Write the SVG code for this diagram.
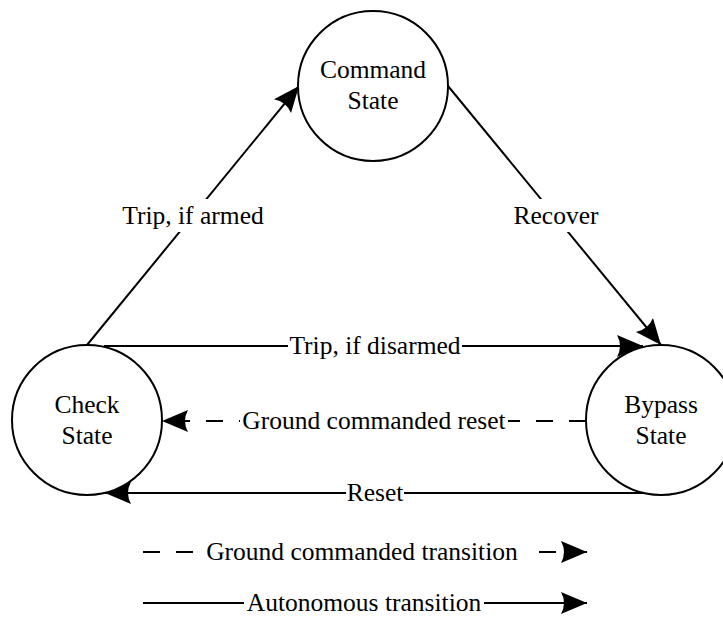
<svg xmlns="http://www.w3.org/2000/svg" width="723" height="617" viewBox="0 0 723 617">
  <style>
    .state { fill: #ffffff; stroke: #000000; stroke-width: 2; }
    .edge { fill: none; stroke: #000000; stroke-width: 2; }
    .dash { stroke-dasharray: 17 16; }
    .lbl { font-family: "Liberation Serif", "Times New Roman", serif; font-size: 25.5px; fill: #000000; text-anchor: middle; }
    .bg { fill: #ffffff; }
  </style>
  <defs>
    <!-- filled arrowhead with a slightly concave back -->
    <marker id="head" markerUnits="userSpaceOnUse" markerWidth="28" markerHeight="24" refX="26" refY="11" orient="auto">
      <path d="M0,0 L26,11 L0,22 Q6,11 0,0 Z" fill="#000000"/>
    </marker>
  </defs>

  <rect width="723" height="617" fill="#ffffff"/>

  <!-- transitions -->
  <g id="connectors">
    <path class="edge" d="M87,345 L299,86" marker-end="url(#head)"/>
    <path class="edge" d="M448,86 L661,345" marker-end="url(#head)"/>
    <path class="edge" d="M104,346 L643,346" marker-end="url(#head)"/>
    <path class="edge dash" d="M586,421 L162,421" marker-end="url(#head)"/>
    <path class="edge" d="M643,493 L105,493" marker-end="url(#head)"/>

    <rect class="bg" x="123" y="199" width="141" height="33"/>
    <text class="lbl" x="193" y="224">Trip, if armed</text>
    <rect class="bg" x="512" y="199" width="88" height="33"/>
    <text class="lbl" x="556" y="224">Recover</text>
    <rect class="bg" x="288" y="334" width="174" height="26"/>
    <text class="lbl" x="375" y="354">Trip, if disarmed</text>
    <rect class="bg" x="240" y="409" width="268" height="26"/>
    <text class="lbl" x="374" y="429">Ground commanded reset</text>
    <rect class="bg" x="346" y="481" width="58" height="26"/>
    <text class="lbl" x="375" y="501">Reset</text>
  </g>

  <!-- states -->
  <g id="command-state">
    <circle class="state" cx="373" cy="86" r="75"/>
    <text class="lbl" x="373" y="78">Command</text>
    <text class="lbl" x="373" y="109">State</text>
  </g>
  <g id="check-state">
    <circle class="state" cx="87" cy="420" r="75"/>
    <text class="lbl" x="87" y="413">Check</text>
    <text class="lbl" x="87" y="444">State</text>
  </g>
  <g id="bypass-state">
    <circle class="state" cx="661" cy="420" r="75"/>
    <text class="lbl" x="661" y="413">Bypass</text>
    <text class="lbl" x="661" y="444">State</text>
  </g>

  <!-- legend -->
  <g id="legend">
    <path class="edge dash" d="M143,552 L587,552" marker-end="url(#head)"/>
    <rect class="bg" x="202" y="540" width="321" height="26"/>
    <text class="lbl" x="362" y="560">Ground commanded transition</text>
    <path class="edge" d="M143,603 L587,603" marker-end="url(#head)"/>
    <rect class="bg" x="244" y="591" width="240" height="26"/>
    <text class="lbl" x="364" y="611">Autonomous transition</text>
  </g>
</svg>
